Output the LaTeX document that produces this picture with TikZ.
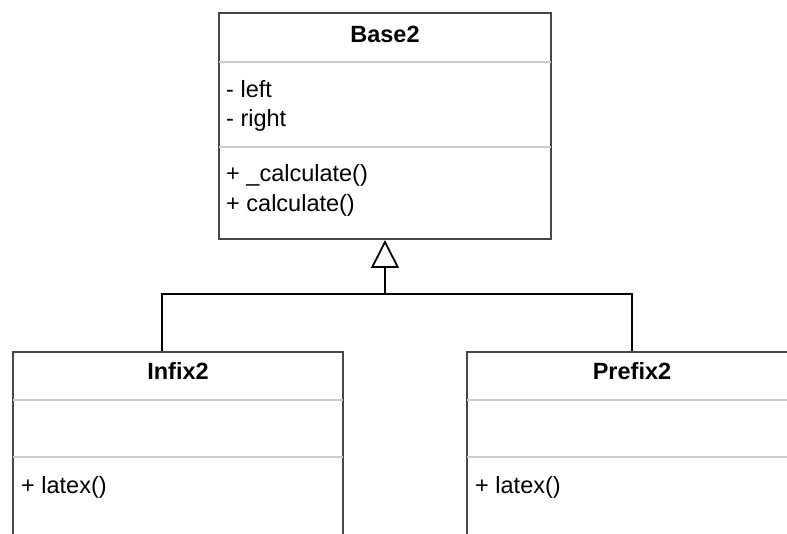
\documentclass[tikz,border=0pt]{standalone}
\usepackage{fontspec}
\setmainfont{Liberation Sans}
\usetikzlibrary{arrows.meta}
\definecolor{boxline}{HTML}{474747}
\definecolor{sepline}{HTML}{CCCCCC}
\begin{document}
\begin{tikzpicture}[x=1pt,y=-1pt,
  umlbox/.style={draw=boxline, line width=2pt, fill=white, rectangle, inner sep=0pt},
  sepln/.style={draw=sepline, line width=2pt},
  title/.style={anchor=base, inner sep=0pt, font=\fontsize{23.5}{28}\selectfont\bfseries},
  member/.style={anchor=base west, inner sep=0pt, font=\fontsize{23.5}{28}\selectfont},
  conn/.style={draw=black, line width=1.8pt}]
\useasboundingbox (0,0) rectangle (787,534);
\clip (0,0) rectangle (787,534);
% boxes
\node[umlbox, minimum width=332pt, minimum height=226pt] (base) at (385,126) {};
\node[umlbox, minimum width=330pt, minimum height=200pt] (infix) at (178,452) {};
\node[umlbox, minimum width=330pt, minimum height=200pt] (prefix) at (632,452) {};
% separators
\draw[sepln] ([xshift=1pt]base.west |- 0,62) -- ([xshift=-1pt]base.east |- 0,62);
\draw[sepln] ([xshift=1pt]base.west |- 0,147) -- ([xshift=-1pt]base.east |- 0,147);
\draw[sepln] ([xshift=1pt]infix.west |- 0,400) -- ([xshift=-1pt]infix.east |- 0,400);
\draw[sepln] ([xshift=1pt]infix.west |- 0,457) -- ([xshift=-1pt]infix.east |- 0,457);
\draw[sepln] ([xshift=1pt]prefix.west |- 0,400) -- ([xshift=-1pt]prefix.east |- 0,400);
\draw[sepln] ([xshift=1pt]prefix.west |- 0,457) -- ([xshift=-1pt]prefix.east |- 0,457);
% texts
\node[title] (tbase) at (385,43) {Base2};
\node[member] (a1) at (226,98) {- left};
\node[member] (a2) at (226,127) {- right};
\node[member] (m1) at (226,182) {+ \_calculate()};
\node[member] (m2) at (226,212) {+ calculate()};
\node[title] (tinfix) at (178,380) {Infix2};
\node[member] (m3) at (21,493) {+ latex()};
\node[title] (tprefix) at (632,380) {Prefix2};
\node[member] (m4) at (475,493) {+ latex()};
% connectors
\coordinate (jn) at (385,295);
\draw[conn] ([xshift=-16pt]infix.north) -- ++(0,-57) -| (prefix.north);
\draw[conn, -{Triangle[open, length=28pt, width=28pt, line width=1.8pt]}] (jn) -- (base.south);
\end{tikzpicture}
\end{document}
